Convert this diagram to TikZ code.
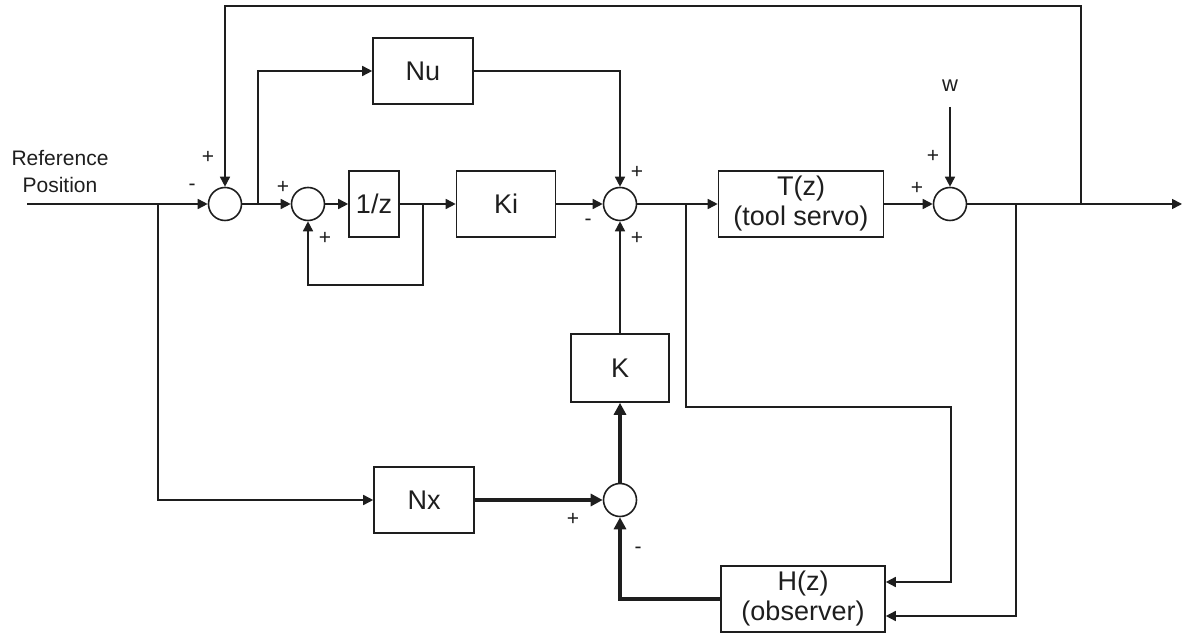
\documentclass[tikz,border=0pt]{standalone}
\usepackage{fontspec}
\setmainfont{Liberation Sans}
\usepackage{xcolor}
\definecolor{ScanInk}{HTML}{1E1E1E}
\usepackage{tikz}
\usetikzlibrary{arrows.meta, calc}

\begin{document}
\begin{tikzpicture}[x=0.5pt, y=-0.5pt, ScanInk,
  sig/.style={line width=0.8pt, -{Triangle[length=5pt, width=5pt]}},
  boldsig/.style={line width=1.6pt, -{Triangle[length=6pt, width=6pt]}},
  blk/.style={draw, line width=0.8pt, minimum height=33pt, inner sep=0pt,
              align=center, font=\fontsize{13.5}{15}\selectfont},
  sumnode/.style={draw, circle, line width=0.8pt, minimum size=16.5pt, inner sep=0pt},
  sgn/.style={font=\fontsize{10.5}{11}\selectfont}]

  \useasboundingbox (0,0) rectangle (1183,640);

  %% summing junctions
  \node[sumnode] (s1) at (225,204) {};
  \node[sumnode] (s2) at (308,204) {};
  \node[sumnode] (s3) at (620,204) {};
  \node[sumnode] (s4) at (950,204) {};
  \node[sumnode] (s5) at (620,500) {};

  %% blocks
  \node[blk, minimum width=50pt]   (Nu)   at (423,71)  {Nu};
  \node[blk, minimum width=25pt]   (zinv) at (374,204) {1/z};
  \node[blk, minimum width=49.5pt] (Ki)   at (506,204) {Ki};
  \node[blk, minimum width=82.5pt] (T)    at (801,204) {T(z)\\(tool servo)};
  \node[blk, minimum width=49pt, minimum height=34pt] (K) at (620,368) {K};
  \node[blk, minimum width=50pt]   (Nx)   at (424,500) {Nx};
  \node[blk, minimum width=82pt]   (H)    at (803,599) {H(z)\\(observer)};

  %% text
  \node[align=center, font=\fontsize{10.5}{13.5}\selectfont] (reflbl) at (60,172)
    {Reference\\Position};
  \node[font=\fontsize{11}{12}\selectfont] (w) at (950,86) {w};

  %% branch points
  \coordinate (ref)      at (27,204);
  \coordinate (refsplit) at (158,204);
  \coordinate (nusplit)  at (258,204);
  \coordinate (zsplit)   at (423,204);
  \coordinate (tsplit)   at (686,204);
  \coordinate (hsplit)   at (1016,204);
  \coordinate (fbsplit)  at (1081,204);
  \coordinate (out)      at (1182,204);
  \coordinate (topline)  at (0,6);
  \coordinate (loopline) at (0,285);
  \coordinate (obsline)  at (951,407);
  \coordinate (hin1) at ($(H.east)+(0,-17)$);
  \coordinate (hin2) at ($(H.east)+(0,17)$);

  %% forward path
  \draw[sig] (ref) -- (s1);
  \draw[sig] (s1) -- (s2);
  \draw[sig] (s2) -- (zinv);
  \draw[sig] (zinv) -- (Ki);
  \draw[sig] (Ki) -- (s3);
  \draw[sig] (s3) -- (T);
  \draw[sig] (T) -- (s4);
  \draw[sig] (s4) -- (out);
  \draw[sig] ([yshift=-4pt]w.south) -- (s4);

  %% feedforward and loops
  \draw[sig] (nusplit) |- (Nu);
  \draw[sig] (Nu) -| (s3);
  \draw[sig] (zsplit) -- (zsplit |- loopline) -| (s2);
  \draw[sig] (fbsplit) -- (fbsplit |- topline) -| (s1);
  \draw[sig] (refsplit) |- (Nx);
  \draw[sig] (tsplit) |- (obsline) |- (hin1);
  \draw[sig] (hsplit) |- (hin2);

  %% state feedback
  \draw[boldsig] (Nx) -- (s5);
  \draw[boldsig] (H) -| (s5);
  \draw[boldsig] (s5) -- (K);
  \draw[sig] (K) -- (s3);

  %% signs
  \foreach \x/\y/\s [count=\i] in {208/157/+, 192/187/-, 283/187/+, 325/238/+,
                        637/172/+, 588/222/-, 637/238/+, 933/156/+, 917/188/+,
                        573/519/+, 638/550/-}{
    \node[sgn] (sign\i) at (\x,\y) {\s};
  }
\end{tikzpicture}
\end{document}
